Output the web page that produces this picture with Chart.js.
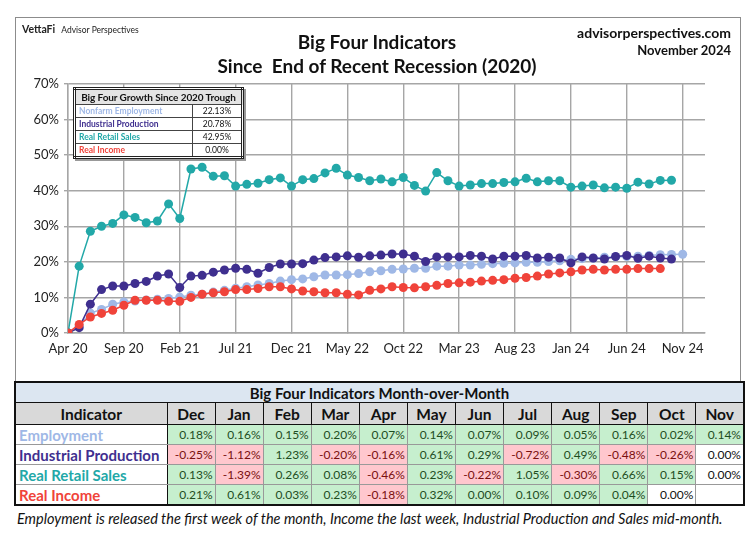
<!DOCTYPE html>
<html lang="en">
<head>
  <meta charset="UTF-8" />
  <title>Big Four Indicators Since End of Recent Recession (2020)</title>
  <script src="https://cdn.jsdelivr.net/npm/chart.js"></script>
  <style>
    body {
      margin: 0;
      width: 750px;
      height: 533px;
      background: #fff;
      font-family: 'Lato', 'Open Sans', sans-serif;
      position: relative;
      overflow: hidden;
    }

    .frame {
      position: absolute;
      left: 15px; top: 17px;
      width: 726px; height: 364px;
      border: 1px solid #8c8c8c;
      border-bottom: none;
      box-sizing: border-box;
    }

    #chartWrap {
      position: absolute;
      left: 15px; top: 17px;
      width: 727px; height: 364px;
    }

    .brand { position: absolute; left: 22px; top: 23px; font-size: 10.5px; font-weight: 700; color: #222; }
    .brand span { font-size: 8.5px; font-weight: 400; margin-left: 6px; }
    .title { position: absolute; left: 180px; width: 394px; text-align: center; font-weight: 700; font-size: 19px; color: #111; }
    .site { position: absolute; right: 19px; text-align: right; font-weight: 700; color: #111; }

    .inset {
      position: absolute;
      left: 73px; top: 87px;
      width: 171px;
      border: 3px double #222;
      background: #fff;
      border-collapse: collapse;
      font-size: 8.5px;
      font-weight: 700;
      box-shadow: 2px 2px 0 #999;
    }
    .inset td { border: 1px solid #444; padding: 0 3px; height: 12px; line-height: 12px; white-space: nowrap; }
    .inset .hd { background: #e4e4e4; text-align: center; font-size: 10px; height: 14px; line-height: 14px; color: #111; padding: 0; letter-spacing: -0.1px; }
    .inset td.v { text-align: center; color: #111; width: 42px; font-weight: 400; }

    table.mom {
      position: absolute;
      left: 14px; top: 381px;
      width: 731px;
      border-collapse: collapse;
      table-layout: fixed;
      border: 2px solid #111;
    }
    .mom td { border: 1px solid #999; padding: 0 2px; overflow: hidden; white-space: nowrap; }
    .mom .cap td { background: #dce6f1; text-align: center; font-weight: 700; font-size: 15px; height: 19px; border-bottom: 1px solid #111; color: #111; }
    .mom .head td { background: #d9d9d9; text-align: center; font-weight: 700; font-size: 15.5px; height: 21px; border: 1px solid #111; color: #111; }
    .mom .lab { font-weight: 700; font-size: 15px; border-right: 1px solid #111; padding-left: 3px; }
    .mom .num { text-align: right; font-size: 12px; height: 19px; }
    .mom .pos { background: #c6efce; color: #1e4d1e; }
    .mom .neg { background: #ffc7ce; color: #7a1010; }
    .mom .nil { background: #fff; color: #111; }

    .note { position: absolute; left: 17px; top: 510px; font-style: italic; font-size: 14.5px; color: #111; white-space: nowrap; }
  </style>
</head>
<body>
  <div class="frame"></div>
  <div id="chartWrap"><canvas id="chartBigFour" width="727" height="364"></canvas></div>

  <div class="brand">VettaFi<span>Advisor Perspectives</span></div>
  <div class="title" style="top:30px">Big Four Indicators</div>
  <div class="title" style="top:54px">Since&nbsp; End of Recent Recession (2020)</div>
  <div class="site" style="top:24px; font-size:14px">advisorperspectives.com</div>
  <div class="site" style="top:42px; font-size:13px">November 2024</div>

  <table class="inset">
    <tr><td class="hd" colspan="2">Big Four Growth Since 2020 Trough</td></tr>
    <tr><td style="color:#9fb8e6">Nonfarm Employment</td><td class="v">22.13%</td></tr>
    <tr><td style="color:#3f2f8f">Industrial Production</td><td class="v">20.78%</td></tr>
    <tr><td style="color:#22a8a8">Real Retail Sales</td><td class="v">42.95%</td></tr>
    <tr><td style="color:#f0433a">Real Income</td><td class="v">0.00%</td></tr>
  </table>

  <table class="mom" id="momTable"></table>

  <div class="note">Employment is released the first week of the month, Income the last week, Industrial Production and Sales mid-month.</div>

  <script>
    // x ticks every 5 months from the Apr 2020 trough
    const tickLabels = ['Apr 20', 'Sep 20', 'Feb 21', 'Jul 21', 'Dec 21', 'May 22', 'Oct 22', 'Mar 23', 'Aug 23', 'Jan 24', 'Jun 24', 'Nov 24'];

    // cumulative growth since trough, % (one value per month)
    const employment = [0, 2.0, 5.6, 6.6, 8.1, 8.7, 9.0, 9.3, 9.5, 9.7, 10.1, 10.6, 10.9, 11.5, 12.0, 12.6, 13.0, 13.5, 13.9, 14.6,
      15.0, 15.2, 15.8, 16.3, 16.3, 16.4, 16.7, 17.2, 17.5, 17.9, 18.0, 18.2, 18.2, 18.8, 18.8, 19.1, 19.1, 19.3, 19.5, 19.6,
      19.7, 19.9, 19.9, 20.1, 20.3, 20.7, 20.9, 21.0, 21.3, 21.4, 21.5, 21.6, 21.8, 22.0, 22.1, 22.13];
    const industrial = [0, 1.5, 8.1, 12.2, 13.2, 13.2, 13.9, 14.5, 16.0, 16.6, 12.8, 16.0, 16.2, 17.1, 17.7, 18.2, 17.9, 16.8, 18.4, 19.4,
      19.4, 19.5, 20.5, 21.2, 21.4, 21.7, 21.3, 21.7, 21.9, 22.2, 22.2, 21.6, 20.1, 21.4, 21.4, 21.4, 21.8, 21.6, 20.8, 21.6,
      21.6, 21.8, 21.1, 21.3, 21.1, 19.7, 21.4, 21.1, 20.8, 21.5, 21.8, 21.0, 21.6, 21.1, 20.78];
    const retail = [0, 18.8, 28.6, 30.0, 30.8, 33.2, 32.5, 31.0, 31.5, 36.3, 32.2, 46.1, 46.6, 44.1, 44.2, 41.3, 41.8, 42.1, 43.1, 43.6,
      41.3, 43.1, 43.4, 45.0, 46.3, 44.4, 43.7, 42.8, 43.3, 42.5, 43.7, 41.5, 39.9, 45.1, 42.8, 41.3, 41.6, 42.0, 42.0, 42.3,
      42.5, 43.5, 42.5, 42.8, 42.8, 41.0, 41.3, 41.6, 40.8, 41.0, 40.7, 42.4, 41.9, 42.9, 42.95];
    const realIncome = [0, 2.4, 4.5, 5.5, 6.4, 7.8, 9.2, 9.2, 9.2, 8.9, 8.9, 10.0, 10.9, 11.3, 11.6, 12.2, 12.2, 12.5, 13.0, 13.0,
      12.4, 11.8, 11.6, 11.3, 11.3, 10.9, 10.7, 12.0, 12.4, 13.0, 12.8, 12.7, 13.0, 13.4, 13.9, 14.1, 14.3, 14.6, 14.8, 15.0,
      15.4, 15.6, 16.0, 16.6, 16.9, 17.2, 17.7, 17.9, 17.7, 17.9, 17.9, 18.1, 18.1, 18.1];

    // month-over-month table
    const momMonths = ['Dec', 'Jan', 'Feb', 'Mar', 'Apr', 'May', 'Jun', 'Jul', 'Aug', 'Sep', 'Oct', 'Nov'];
    const momEmployment = ['0.18%', '0.16%', '0.15%', '0.20%', '0.07%', '0.14%', '0.07%', '0.09%', '0.05%', '0.16%', '0.02%', '0.14%'];
    const momIndustrial = ['-0.25%', '-1.12%', '1.23%', '-0.20%', '-0.16%', '0.61%', '0.29%', '-0.72%', '0.49%', '-0.48%', '-0.26%', '0.00%'];
    const momRetail = ['0.13%', '-1.39%', '0.26%', '0.08%', '-0.46%', '0.23%', '-0.22%', '1.05%', '-0.30%', '0.66%', '0.15%', '0.00%'];
    const momIncome = ['0.21%', '0.61%', '0.03%', '0.23%', '-0.18%', '0.32%', '0.00%', '0.10%', '0.09%', '0.04%', '0.00%', ''];
    // cells not yet reported (plain white)
    const pending = { industrial: [11], retail: [11], income: [10, 11] };

    const colEmp = '#9fb8e6', colInd = '#3f2f8f', colRet = '#22a8a8', colInc = '#f0433a';

    // build the table
    const tbl = document.getElementById('momTable');
    let html = '<colgroup><col style="width:152px">' + momMonths.map(() => '<col>').join('') + '</colgroup>';
    html += '<tr class="cap"><td colspan="13">Big Four Indicators Month-over-Month</td></tr>';
    html += '<tr class="head"><td>Indicator</td>' + momMonths.map(m => `<td>${m}</td>`).join('') + '</tr>';
    function row(name, color, vals, skip) {
      let r = `<tr><td class="lab" style="color:${color}">${name}</td>`;
      vals.forEach((v, i) => {
        let cls = v.startsWith('-') ? 'neg' : 'pos';
        if (skip.includes(i)) cls = 'nil';
        r += `<td class="num ${cls}">${v}</td>`;
      });
      return r + '</tr>';
    }
    html += row('Employment', colEmp, momEmployment, []);
    html += row('Industrial Production', colInd, momIndustrial, pending.industrial);
    html += row('Real Retail Sales', colRet, momRetail, pending.retail);
    html += row('Real Income', colInc, momIncome, pending.income);
    tbl.innerHTML = html;

    const toXY = arr => arr.map((v, i) => ({ x: i, y: v }));
    const series = (label, data, color, order) => ({
      label, data: toXY(data), order,
      borderColor: color, backgroundColor: color,
      borderWidth: 1.5, pointRadius: 4.5, pointBorderWidth: 0,
      pointBackgroundColor: color
    });

    Chart.defaults.font.family = "'Lato', 'Open Sans', sans-serif";

    const ctx = document.getElementById('chartBigFour').getContext('2d');
    new Chart(ctx, {
      type: 'line',
      data: {
        datasets: [
          series('Real Income', realIncome, colInc, 1),
          series('Real Retail Sales', retail, colRet, 2),
          series('Industrial Production', industrial, colInd, 3),
          series('Nonfarm Employment', employment, colEmp, 4)
        ]
      },
      options: {
        responsive: false,
        animation: false,
        layout: { padding: { left: 3, top: 67, right: 37, bottom: 18 } },
        plugins: { legend: { display: false }, tooltip: { enabled: false } },
        scales: {
          x: {
            type: 'linear', min: 0, max: 57,
            afterBuildTicks: axis => { axis.ticks = tickLabels.map((_, i) => ({ value: i * 5 })); },
            afterFit: s => { s.height = 30; },
            ticks: { autoSkip: false, maxRotation: 0, padding: 8, color: '#222', font: { size: 13 },
              callback: v => tickLabels[Math.round(v / 5)] },
            grid: { color: '#a6a6a6', lineWidth: 1.4, tickLength: 0 },
            border: { color: '#a6a6a6', width: 1.4 }
          },
          y: {
            min: 0, max: 70,
            afterFit: s => { s.width = 50; },
            ticks: { stepSize: 10, padding: 5, color: '#222', font: { size: 13 }, callback: v => v + '%' },
            grid: { color: '#a6a6a6', lineWidth: 1.4, tickLength: 4 },
            border: { color: '#a6a6a6', width: 1.4 }
          }
        }
      }
    });
  </script>
</body>
</html>
